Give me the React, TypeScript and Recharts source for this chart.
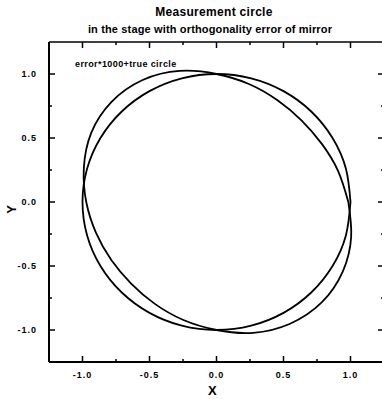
import { ScatterChart, Scatter, XAxis, YAxis } from 'recharts';

// true circle, sampled every 15 degrees (first point repeated to close it)
const circleX = [1, 0.966, 0.866, 0.707, 0.5, 0.259, 0, -0.259, -0.5, -0.707, -0.866, -0.966, -1, -0.966, -0.866, -0.707, -0.5, -0.259, 0, 0.259, 0.5, 0.707, 0.866, 0.966, 1];
const circleY = [0, 0.259, 0.5, 0.707, 0.866, 0.966, 1, 0.966, 0.866, 0.707, 0.5, 0.259, 0, -0.259, -0.5, -0.707, -0.866, -0.966, -1, -0.966, -0.866, -0.707, -0.5, -0.259, 0];

const errX = [0.984, 0.907, 0.786, 0.636, 0.458, 0.246, 0, -0.275, -0.551, -0.783, -0.935, -0.99, -0.972, -0.899, -0.785, -0.637, -0.46, -0.247, 0, 0.274, 0.549, 0.785, 0.942, 1.005, 0.984];
const errY = [0, 0.243, 0.454, 0.636, 0.793, 0.92, 1.0, 1.024, 0.953, 0.783, 0.54, 0.265, 0, -0.241, -0.453, -0.637, -0.796, -0.922, -1.0, -1.022, -0.951, -0.785, -0.544, -0.269, 0];

const tickValues = [-1, -0.75, -0.5, -0.25, 0, 0.25, 0.5, 0.75, 1];
const majorLabels: Record<string, string> = { '-1': '-1.0', '-0.5': '-0.5', '0': '0.0', '0.5': '0.5', '1': '1.0' };

const circleData = circleX.map((x, i) => ({ x, y: circleY[i] }));
const errData = errX.map((x, i) => ({ x, y: errY[i] }));

const FONT = '"Liberation Sans", Arial, sans-serif';

// plot frame edges
const LEFT = 49;
const RIGHT = 384;
const TOP = 42;
const BOTTOM = 362;

const tickLen = (v: number) => (majorLabels[String(v)] ? 6 : 3);

const BottomTick = (props: any) => {
  const { x, payload } = props;
  const label = majorLabels[String(payload.value)];
  return (
    <g>
      <line x1={x} y1={BOTTOM} x2={x} y2={BOTTOM - tickLen(payload.value)} stroke="#000" strokeWidth={1.5} />
      {label && (
        <text x={x} y={BOTTOM + 16} textAnchor="middle" fontSize={9} fontWeight="bold" letterSpacing={1} fontFamily={FONT} fill="#000">
          {label}
        </text>
      )}
    </g>
  );
};

const LeftTick = (props: any) => {
  const { y, payload } = props;
  const label = majorLabels[String(payload.value)];
  return (
    <g>
      <line x1={LEFT} y1={y} x2={LEFT + tickLen(payload.value)} y2={y} stroke="#000" strokeWidth={1.5} />
      {label && (
        <text x={LEFT - 12} y={y + 3} textAnchor="end" fontSize={9} fontWeight="bold" letterSpacing={1} fontFamily={FONT} fill="#000">
          {label}
        </text>
      )}
    </g>
  );
};

const TopTick = (props: any) => {
  const { x, payload } = props;
  return <line x1={x} y1={TOP} x2={x} y2={TOP + tickLen(payload.value)} stroke="#000" strokeWidth={1.5} />;
};

const RightTick = (props: any) => {
  const { y, payload } = props;
  return <line x1={RIGHT} y1={y} x2={RIGHT - tickLen(payload.value)} y2={y} stroke="#000" strokeWidth={1.5} />;
};

const noDot = () => <g />;

export default function App() {
  return (
    <div style={{ position: 'absolute', left: 0, top: 0, width: 382, height: 399, overflow: 'hidden', background: '#fff', fontFamily: FONT }}>
      <div style={{ position: 'absolute', left: 0, width: 428, top: 5, textAlign: 'center', fontSize: 12, fontWeight: 'bold', lineHeight: '15px', letterSpacing: 0.3 }}>
        Measurement circle
      </div>
      <div style={{ position: 'absolute', left: 0, width: 420, top: 22, textAlign: 'center', fontSize: 11, fontWeight: 'bold', lineHeight: '14px', letterSpacing: 0.15 }}>
        in the stage with orthogonality error of mirror
      </div>
      <ScatterChart width={386} height={399} margin={{ top: 41, right: 1, bottom: 7, left: 9 }}>
        <XAxis
          xAxisId="b"
          type="number"
          dataKey="x"
          domain={[-1.25, 1.25]}
          ticks={tickValues}
          interval={0}
          allowDataOverflow
          height={30}
          tickLine={false}
          axisLine={{ stroke: '#000', strokeWidth: 2 }}
          tick={<BottomTick />}
        />
        <XAxis
          xAxisId="t"
          orientation="top"
          type="number"
          dataKey="x"
          domain={[-1.25, 1.25]}
          ticks={tickValues}
          interval={0}
          allowDataOverflow
          height={1}
          tickLine={false}
          axisLine={{ stroke: '#000', strokeWidth: 1.5 }}
          tick={<TopTick />}
        />
        <YAxis
          yAxisId="l"
          type="number"
          dataKey="y"
          domain={[-1.25, 1.25]}
          ticks={tickValues}
          interval={0}
          allowDataOverflow
          width={40}
          tickLine={false}
          axisLine={{ stroke: '#000', strokeWidth: 2 }}
          tick={<LeftTick />}
        />
        <YAxis
          yAxisId="r"
          orientation="right"
          type="number"
          dataKey="y"
          domain={[-1.25, 1.25]}
          ticks={tickValues}
          interval={0}
          allowDataOverflow
          width={1}
          tickLine={false}
          axisLine={{ stroke: '#000', strokeWidth: 1.5 }}
          tick={<RightTick />}
        />
        <Scatter
          xAxisId="b"
          yAxisId="l"
          data={circleData}
          line={{ stroke: '#000', strokeWidth: 1.8 }}
          lineJointType="natural"
          shape={noDot}
          fill="none"
          isAnimationActive={false}
        />
        <Scatter
          xAxisId="b"
          yAxisId="l"
          data={errData}
          line={{ stroke: '#000', strokeWidth: 1.8 }}
          lineJointType="natural"
          shape={noDot}
          fill="none"
          isAnimationActive={false}
        />
      </ScatterChart>
      <div style={{ position: 'absolute', left: 75, top: 59, fontSize: 9, fontWeight: 'bold', letterSpacing: 0.4, whiteSpace: 'nowrap' }}>
        error*1000+true circle
      </div>
      <div style={{ position: 'absolute', left: 208, top: 383, fontSize: 13, fontWeight: 'bold' }}>X</div>
      <div style={{ position: 'absolute', left: 7, top: 202, fontSize: 13, fontWeight: 'bold', transform: 'rotate(-90deg)' }}>Y</div>
    </div>
  );
}
